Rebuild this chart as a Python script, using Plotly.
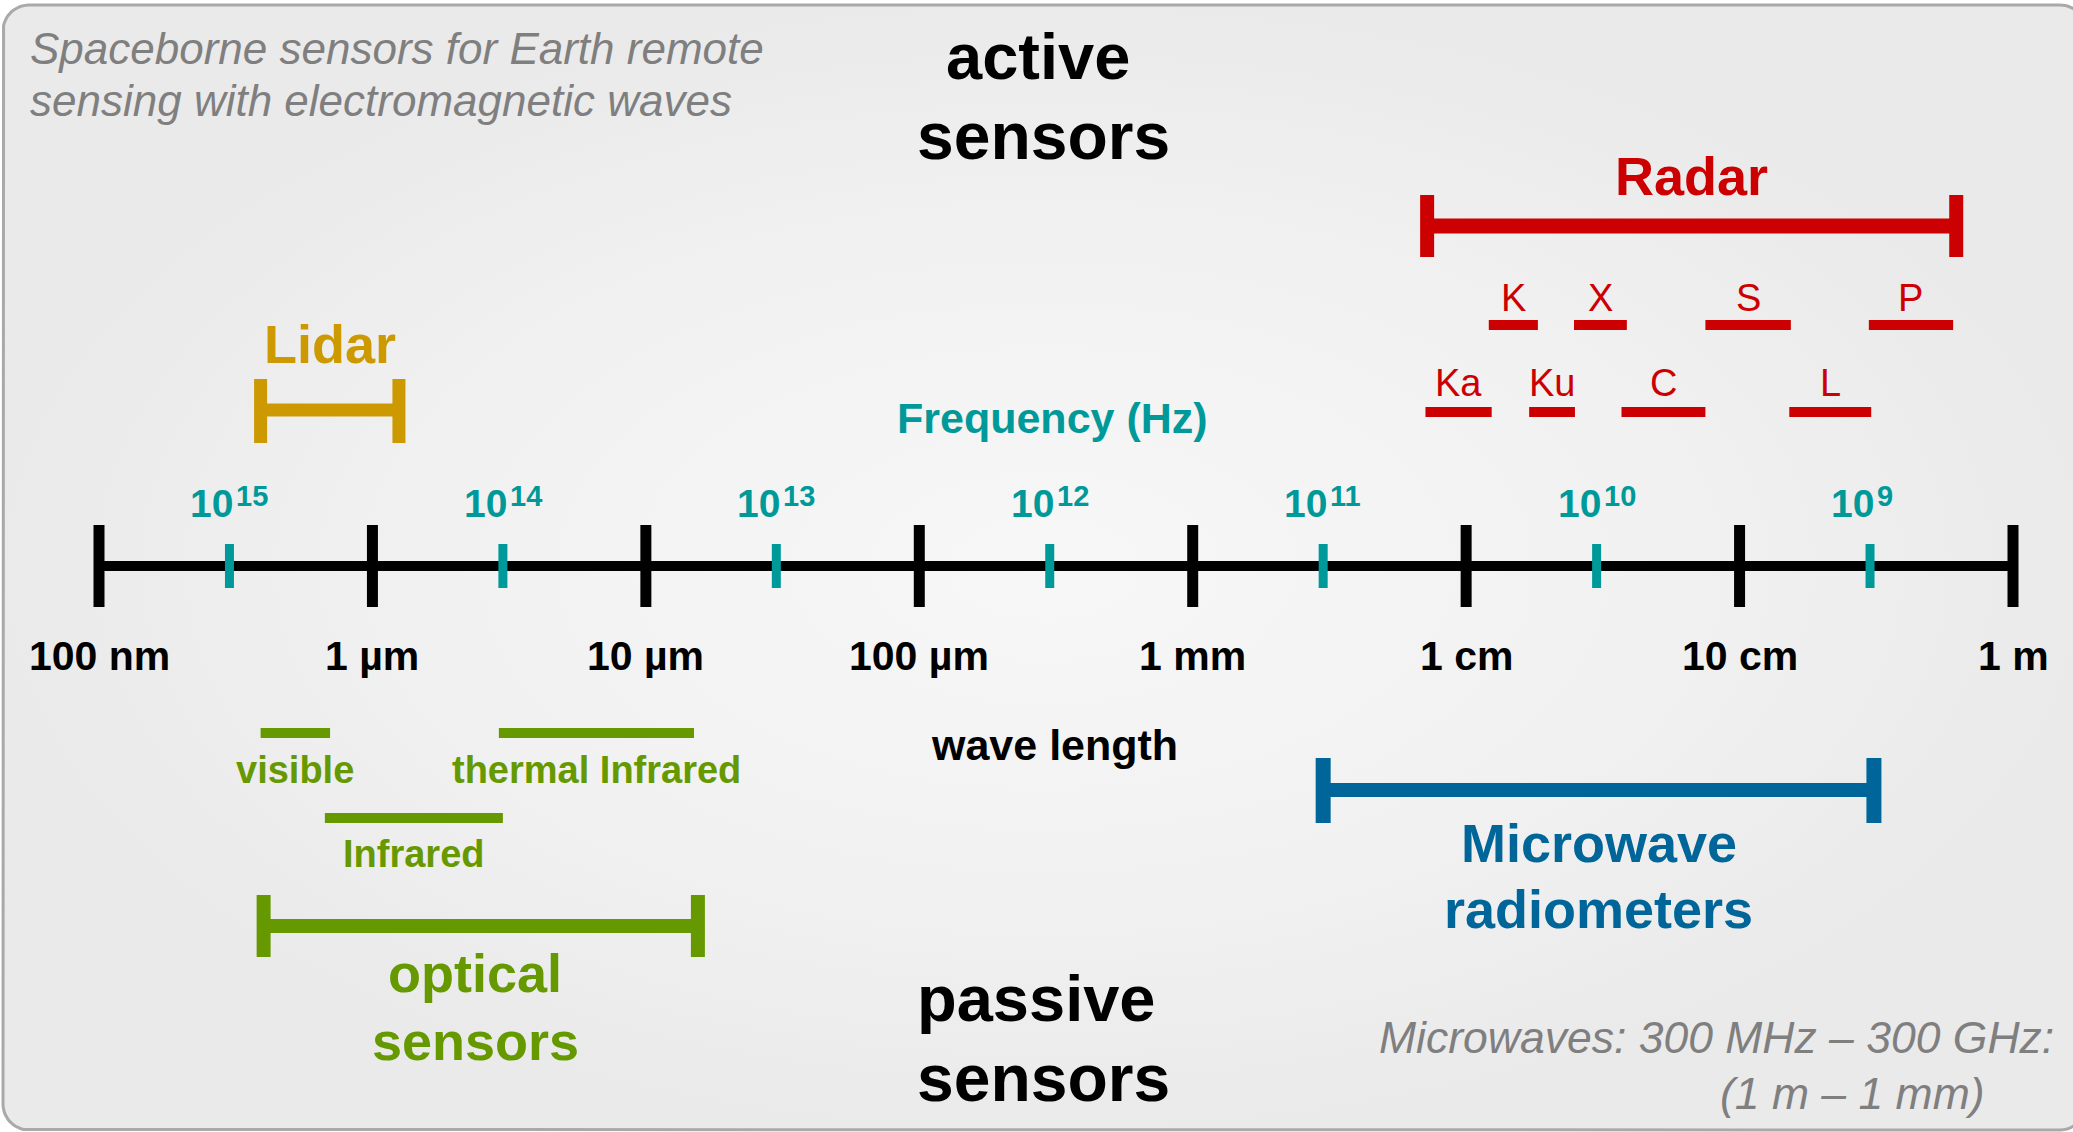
import numpy as np
import plotly.graph_objects as go

# ---------------- data (wavelengths in metres) ----------------
SPEED_OF_LIGHT = 3.0e8

wavelength_ticks_m = [1e-7, 1e-6, 1e-5, 1e-4, 1e-3, 1e-2, 1e-1, 1.0]
wavelength_tick_labels = ["100 nm", "1 µm", "10 µm", "100 µm", "1 mm", "1 cm", "10 cm", "1 m"]

frequency_ticks_hz = [1e15, 1e14, 1e13, 1e12, 1e11, 1e10, 1e9]
frequency_exponents = ["15", "14", "13", "12", "11", "10", "9"]

radar_range_m = [7.2e-3, 0.62]
lidar_range_m = [3.9e-7, 1.25e-6]
radiometer_range_m = [3.0e-3, 0.31]
optical_range_m = [4.0e-7, 1.55e-5]

radar_bands = ["K", "X", "S", "P", "Ka", "Ku", "C", "L"]
radar_band_start_m = [0.0121, 0.0248, 0.075, 0.297, 0.0071, 0.017, 0.037, 0.152]
radar_band_end_m = [0.0183, 0.0387, 0.154, 0.604, 0.0124, 0.025, 0.075, 0.303]
radar_band_row = [0, 0, 0, 0, 1, 1, 1, 1]

optical_bands = ["visible", "Infrared", "thermal Infrared"]
optical_band_start_m = [3.9e-7, 6.7e-7, 2.9e-6]
optical_band_end_m = [7.0e-7, 3.0e-6, 1.5e-5]
optical_band_row = [0, 1, 0]

# ---------------- layout / style constants ----------------
W, H = 2073, 1132
AX_LEFT_PX, AX_RIGHT_PX = 99, 2013
DECADE_PX = (AX_RIGHT_PX - AX_LEFT_PX) / 7.0
LOG_RANGE = [-7 - AX_LEFT_PX / DECADE_PX, 0 + (W - AX_RIGHT_PX) / DECADE_PX]

FONT = "Liberation Sans, Arial, sans-serif"
TEAL = "#009999"
RED = "#cc0000"
GOLD = "#cc9900"
GREEN = "#669900"
BLUE = "#006699"
GRAY_TXT = "#7f7f7f"

AXIS_Y = 566
BIG_TICK_Y = (525, 607)
FREQ_TICK_Y = (544, 588)

fig = go.Figure()

# ---------------- background panel (decoration) ----------------
def rounded_rect(x0, y0, x1, y1, r, n=16):
    xs, ys = [], []
    corners = [(x1 - r, y0 + r, -90, 0), (x1 - r, y1 - r, 0, 90),
               (x0 + r, y1 - r, 90, 180), (x0 + r, y0 + r, 180, 270)]
    for cx, cy, a0, a1 in corners:
        for a in np.linspace(np.radians(a0), np.radians(a1), n):
            xs.append(cx + r * np.cos(a))
            ys.append(cy + r * np.sin(a))
    xs.append(xs[0]); ys.append(ys[0])
    return xs, ys

bx, by = rounded_rect(3, 5, 2086, 1130, 26)
fig.add_trace(go.Scatter(
    x=bx, y=by, mode="lines", fill="toself",
    fillgradient=dict(type="radial",
                      colorscale=[[0, "#f7f7f7"], [0.6, "#f1f1f1"], [1, "#eaeaea"]]),
    line=dict(color="#a9a9a9", width=3),
    xaxis="x", yaxis="y", hoverinfo="skip", showlegend=False))

# ---------------- helpers ----------------
def segs(xs, ys, color, width):
    fig.add_trace(go.Scatter(x=xs, y=ys, mode="lines", line=dict(color=color, width=width),
                             xaxis="x2", yaxis="y", hoverinfo="skip", showlegend=False))

def bracket(rng, y, y_cap0, y_cap1, color, bar_w, cap_w):
    segs([rng[0], rng[1]], [y, y], color, bar_w)
    segs([rng[0], rng[0], None, rng[1], rng[1]],
         [y_cap0, y_cap1, None, y_cap0, y_cap1], color, cap_w)

def label(text, x, y, size, color, xref="x2", bold=False, italic=False, xanchor="center"):
    fig.add_annotation(text=text, x=x, y=y, xref=xref, yref="y", showarrow=False,
                       xanchor=xanchor, yanchor="middle",
                       font=dict(family=FONT, size=size, color=color,
                                 weight="bold" if bold else "normal",
                                 style="italic" if italic else "normal"))

def logmid(a, b):
    return (np.log10(a) + np.log10(b)) / 2.0

# ---------------- main wavelength axis ----------------
segs([wavelength_ticks_m[0], wavelength_ticks_m[-1]], [AXIS_Y, AXIS_Y], "black", 10)
tx, ty = [], []
for w in wavelength_ticks_m:
    tx += [w, w, None]; ty += [BIG_TICK_Y[0], BIG_TICK_Y[1], None]
segs(tx, ty, "black", 11)

freq_wl = [SPEED_OF_LIGHT / f for f in frequency_ticks_hz]
fx, fy = [], []
for w in freq_wl:
    fx += [w, w, None]; fy += [FREQ_TICK_Y[0], FREQ_TICK_Y[1], None]
segs(fx, fy, TEAL, 9)

for w, t in zip(wavelength_ticks_m, wavelength_tick_labels):
    label(t, np.log10(w), 656, 41, "black", bold=True)

SUP_SHIFT = 6 / DECADE_PX  # base "10" ends just right of its tick
for w, e in zip(freq_wl, frequency_exponents):
    xb = np.log10(w) + SUP_SHIFT
    label("10", xb, 503, 39, TEAL, bold=True, xanchor="right")
    label(e, xb - 1 / DECADE_PX, 496, 29, TEAL, bold=True, xanchor="left")

label("Frequency (Hz)", 1052, 418, 43, TEAL, xref="x", bold=True)
label("wave length", 1054, 745, 43, "black", xref="x", bold=True)

# ---------------- radar ----------------
bracket(radar_range_m, 226, 195, 257, RED, 15, 14)
label("Radar", logmid(*radar_range_m), 176, 54, RED, bold=True)
band_bar_y = [325, 412]
band_lab_y = [298, 383]
for name, a, b, r in zip(radar_bands, radar_band_start_m, radar_band_end_m, radar_band_row):
    segs([a, b], [band_bar_y[r], band_bar_y[r]], RED, 10)
    label(name, logmid(a, b), band_lab_y[r], 38, RED)

# ---------------- lidar ----------------
bracket(lidar_range_m, 410, 379, 443, GOLD, 13, 13)
label("Lidar", logmid(*lidar_range_m), 344, 54, GOLD, bold=True)

# ---------------- microwave radiometers ----------------
bracket(radiometer_range_m, 790, 758, 823, BLUE, 14, 15)
mid = logmid(*radiometer_range_m)
label("Microwave", mid, 843, 54, BLUE, bold=True)
label("radiometers", mid, 909, 54, BLUE, bold=True)

# ---------------- optical ----------------
opt_bar_y = [733, 818]
opt_lab_y = [770, 854]
for name, a, b, r in zip(optical_bands, optical_band_start_m, optical_band_end_m, optical_band_row):
    segs([a, b], [opt_bar_y[r], opt_bar_y[r]], GREEN, 10)
    label(name, logmid(a, b), opt_lab_y[r], 38, GREEN, bold=True)
bracket(optical_range_m, 926, 895, 957, GREEN, 14, 14)
mid = logmid(*optical_range_m)
label("optical", mid - 0.02, 973, 54, GREEN, bold=True)
label("sensors", mid - 0.02, 1041, 54, GREEN, bold=True)

# ---------------- free texts ----------------
label("Spaceborne sensors for Earth remote", 28, 48, 44, GRAY_TXT, xref="x", italic=True, xanchor="left")
label("sensing with electromagnetic waves", 28, 100, 44, GRAY_TXT, xref="x", italic=True, xanchor="left")
label("active", 1038, 56, 65, "black", xref="x", bold=True)
label("sensors", 1043, 136, 66, "black", xref="x", bold=True)
label("passive", 1036, 998, 65, "black", xref="x", bold=True)
label("sensors", 1043, 1078, 66, "black", xref="x", bold=True)
label("Microwaves: 300 MHz – 300 GHz:", 2056, 1037, 44.5, GRAY_TXT, xref="x", italic=True, xanchor="right")
label("(1 m – 1 mm)", 1987, 1093, 44.5, GRAY_TXT, xref="x", italic=True, xanchor="right")

fig.update_layout(
    width=W, height=H, margin=dict(l=0, r=0, t=0, b=0),
    paper_bgcolor="white", plot_bgcolor="white",
    xaxis=dict(range=[0, W], domain=[0, 1], visible=False, fixedrange=True),
    xaxis2=dict(type="log", range=LOG_RANGE, overlaying="x", visible=False, fixedrange=True),
    yaxis=dict(range=[H, 0], domain=[0, 1], visible=False, fixedrange=True),
    showlegend=False,
)

fig.write_html("out.html", config={"displayModeBar": False},
               post_script="document.body.style.margin='0';document.body.style.overflow='hidden';")
